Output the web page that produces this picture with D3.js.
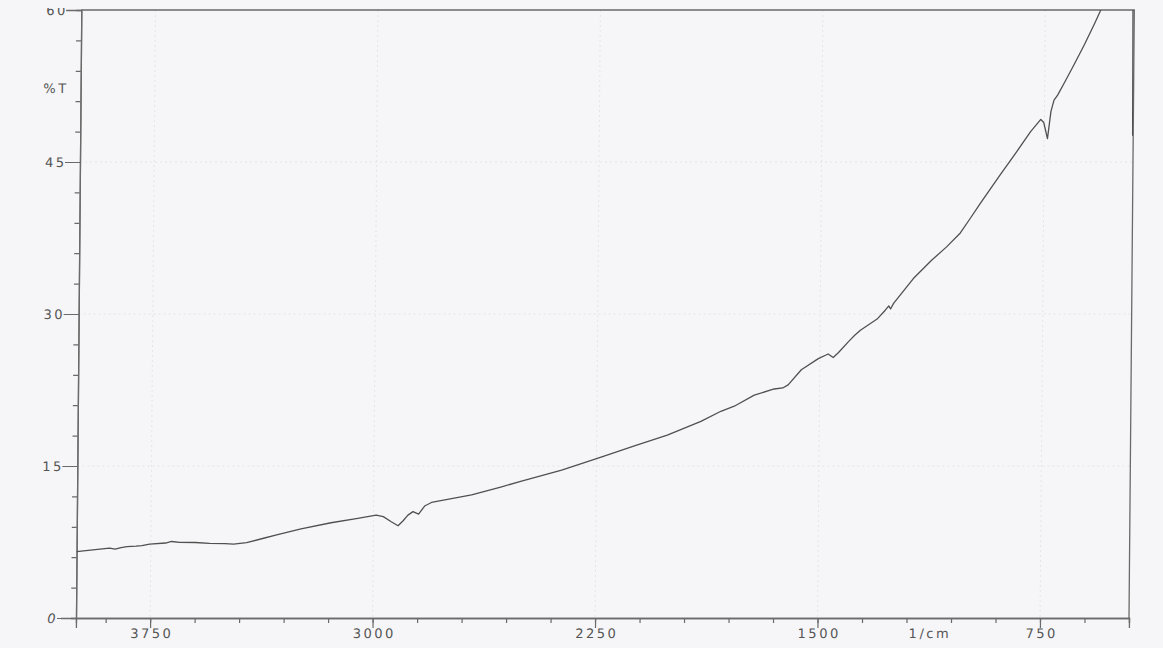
<!DOCTYPE html>
<html>
<head>
<meta charset="utf-8">
<script src="https://cdn.jsdelivr.net/npm/d3@7.9.0/dist/d3.min.js"></script>
<style>
  html, body { margin: 0; padding: 0; background: #f6f6f8; }
  svg { display: block; }
  .lbl { font-family: "DejaVu Sans", sans-serif; font-size: 13px; letter-spacing: 2.5px; fill: #555; }
</style>
</head>
<body>
<svg id="chart" width="1163" height="648"></svg>
<script>
// IR spectrum
const wavenumber = [4000, 3953, 3889, 3870, 3850, 3830, 3800, 3780, 3754, 3700, 3680, 3653, 3600, 3552, 3500,
  3471, 3427, 3370, 3326, 3244, 3143, 3058, 2991, 2967, 2940, 2917, 2900, 2884, 2867, 2848,
  2828, 2805, 2670, 2569, 2502, 2367, 2232, 2120, 2012, 1899, 1832, 1787, 1720, 1653, 1624,
  1606, 1562, 1505, 1472, 1455, 1437, 1403, 1383, 1364, 1308, 1280, 1269, 1263, 1253, 1187,
  1126, 1075, 1030, 1000, 964, 898, 845, 796, 762, 752, 739, 728, 718, 706, 684,
  650, 617, 583, 566, 556, 500, 455, 452];
const transmittance = [6.55, 6.7, 6.9, 6.8, 6.95, 7.05, 7.1, 7.15, 7.3, 7.4, 7.55, 7.47, 7.45, 7.37, 7.33,
  7.3, 7.43, 7.87, 8.2, 8.8, 9.4, 9.8, 10.15, 10.0, 9.5, 9.1, 9.6, 10.15, 10.5, 10.25,
  11.05, 11.4, 12.15, 12.95, 13.5, 14.6, 15.9, 17.0, 18.05, 19.4, 20.4, 20.9, 22.0, 22.6, 22.7,
  23.0, 24.5, 25.6, 26.05, 25.7, 26.2, 27.3, 27.9, 28.4, 29.5, 30.4, 30.8, 30.5, 31.05, 33.5,
  35.3, 36.65, 38.0, 39.3, 40.9, 43.7, 45.9, 48.0, 49.2, 48.9, 47.3, 50.0, 51.1, 51.6, 52.8,
  54.7, 56.6, 58.7, 59.8, 60.6, 63, 63, 47.6];

const xMinorTicks = d3.range(3900, 449, -150);
const xLabelTicks = [3750, 3000, 2250, 1500, 750];
const yMinorTicks = d3.range(3, 60, 3);
const yLabelTicks = [0, 15, 30, 45, 60];

const plotLeft = 76, plotRight = 1129, plotTop = 10, plotBottom = 618;
const svg = d3.select('#chart');

const x = d3.scaleLinear().domain([4000, 450]).range([plotLeft, plotRight]);
const y = d3.scaleLinear().domain([0, 60]).range([plotBottom, plotTop]);

const defs = svg.append('defs');
defs.append('clipPath').attr('id', 'plot')
  .append('rect').attr('x', plotLeft).attr('y', plotTop)
  .attr('width', plotRight - plotLeft).attr('height', plotBottom - plotTop);
defs.append('clipPath').attr('id', 'page')
  .append('rect').attr('x', 0).attr('y', 8).attr('width', 1163).attr('height', 640);

// the scan leans a little
const g = svg.append('g')
  .attr('clip-path', 'url(#page)')
  .append('g')
  .attr('transform', `translate(0,${plotBottom}) skewX(-0.5) translate(0,${-plotBottom})`);

// faint grid
g.append('g').selectAll('line').data(xLabelTicks).join('line')
  .attr('x1', d => x(d)).attr('x2', d => x(d)).attr('y1', plotTop).attr('y2', plotBottom)
  .attr('stroke', '#e4e4ea').attr('stroke-dasharray', '2,3');
g.append('g').selectAll('line').data(yLabelTicks.slice(1, 4)).join('line')
  .attr('x1', plotLeft).attr('x2', plotRight).attr('y1', d => y(d)).attr('y2', d => y(d))
  .attr('stroke', '#e4e4ea').attr('stroke-dasharray', '2,3');

// frame
g.append('path')
  .attr('d', `M${plotLeft},${plotTop}H${plotRight}V${plotBottom}`)
  .attr('fill', 'none').attr('stroke', '#6a6a6a').attr('stroke-width', 1.3);

// x axis
const fmt = d3.format('d');
const xMinor = g.append('g').attr('transform', `translate(0,${plotBottom})`)
  .call(d3.axisBottom(x).tickValues(xMinorTicks).tickSize(5).tickFormat(''));
const xMajor = g.append('g').attr('transform', `translate(0,${plotBottom})`)
  .call(d3.axisBottom(x).tickValues(xLabelTicks).tickSize(10).tickFormat(fmt));

// y axis
const yMinor = g.append('g').attr('transform', `translate(${plotLeft},0)`)
  .call(d3.axisLeft(y).tickValues(yMinorTicks).tickSize(5).tickFormat(''));
const yMajor = g.append('g').attr('transform', `translate(${plotLeft},0)`)
  .call(d3.axisLeft(y).tickValues(yLabelTicks).tickSize(15).tickFormat(fmt));

[xMinor, xMajor, yMinor, yMajor].forEach(a => {
  a.select('.domain').attr('stroke', '#6a6a6a').attr('stroke-width', 1.3);
  a.selectAll('.tick line').attr('stroke', '#6a6a6a').attr('stroke-width', 1.2);
  a.selectAll('text').attr('class', 'lbl').attr('font-size', null).attr('font-family', null).attr('fill', null);
});
xMajor.selectAll('text').attr('y', 20).attr('dy', 0).attr('dx', 1.25);
yMajor.selectAll('text').attr('x', -13.5).attr('dy', '0.36em');
yMajor.selectAll('.tick').filter(d => d === 0).select('text').attr('font-style', 'italic').attr('x', -18);
yMajor.selectAll('.tick').filter(d => d === 0).select('line').attr('x2', -19);

g.append('text').attr('class', 'lbl')
  .attr('x', 64).attr('y', y(52.3)).attr('dy', '0.36em').attr('text-anchor', 'end')
  .text('%T');
g.append('text').attr('class', 'lbl')
  .attr('x', x(1125) + 1.25).attr('y', plotBottom + 20).attr('text-anchor', 'middle')
  .text('1/cm');

// spectrum
const line = d3.line().x(d => x(d[0])).y(d => y(d[1]));
g.append('g').attr('clip-path', 'url(#plot)')
  .append('path')
  .datum(d3.zip(wavenumber, transmittance))
  .attr('d', line)
  .attr('fill', 'none')
  .attr('stroke', '#505050')
  .attr('stroke-width', 1.3)
  .attr('stroke-linejoin', 'round');
</script>
</body>
</html>
